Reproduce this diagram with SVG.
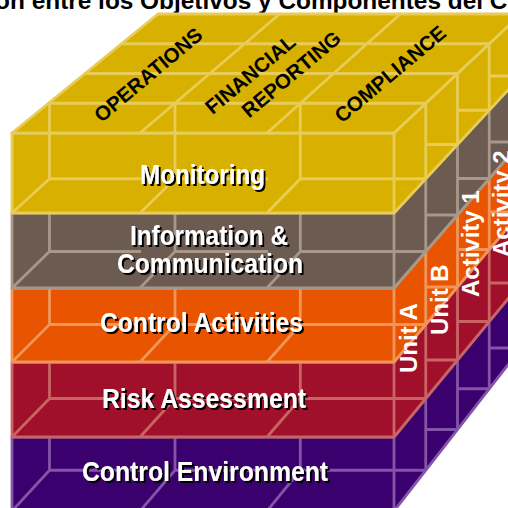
<svg xmlns="http://www.w3.org/2000/svg" width="508" height="508" viewBox="0 0 508 508">
<defs>
<filter id="shadow" x="-5%" y="-20%" width="115%" height="150%">
<feOffset in="SourceAlpha" dx="2.2" dy="2.2" result="off"/>
<feMerge><feMergeNode in="off"/><feMergeNode in="SourceGraphic"/></feMerge>
</filter>
</defs>
<style>
.ln{fill:none;stroke-width:2.8;stroke-linecap:round;stroke-linejoin:round}
.f{font-family:"Liberation Sans",Arial,Helvetica,sans-serif;font-weight:bold}
.lbl{font-size:27px;text-anchor:middle;fill:#fff;filter:url(#shadow)}
.toplbl{font-size:20.5px;text-anchor:middle;fill:#000}
.sidelbl{font-size:24px;fill:#fff}
</style>
<rect width="508" height="508" fill="#fff"/>
<text class="f" x="-4.9" y="9" font-size="24.4" fill="#000">on entre los Objetivos y Componentes del C</text>

<g id="control-environment">
<path fill="#3A006E" d="M12 437H394V511H12Z M394 437L521 283V348L394 511Z"/>
<path class="ln" stroke="#8454A8" d="M49.5 437V470.25H140 M12 511L49.5 470.25 M175 437V470.25H267 M140 511L175 470.25 M300.3 437V470.25H425.75 M267 511L300.3 470.25 M425.75 398.5V470.25 M457.5 360V429.5 M489.25 321.5V388.75 M521 283V348 M425.75 429.5H457.5 M457.5 388.75H489.25 M489.25 348H521 M12 437H394V511H12Z M394 437L521 283V348L394 511"/>
<text class="f lbl" x="205" y="481" textLength="246" lengthAdjust="spacingAndGlyphs">Control Environment</text>
</g>

<g id="risk-assessment">
<path fill="#A0102A" d="M12 362H394V437H12Z M394 362L521 212V283L394 437Z"/>
<path class="ln" stroke="#C86464" d="M49.5 362V398.5H140 M12 437L49.5 398.5 M175 362V398.5H267 M140 437L175 398.5 M300.3 362V398.5H425.75 M267 437L300.3 398.5 M425.75 324.5V398.5 M457.5 287V360 M489.25 249.5V321.5 M521 212V283 M425.75 360H457.5 M457.5 321.5H489.25 M489.25 283H521 M12 362H394V437H12Z M394 362L521 212V283L394 437"/>
<text class="f lbl" x="204" y="408" textLength="204" lengthAdjust="spacingAndGlyphs">Risk Assessment</text>
</g>

<g id="control-activities">
<path fill="#E85400" d="M12 288H394V362H12Z M394 288L521 142V212L394 362Z"/>
<path class="ln" stroke="#F0965A" d="M49.5 288V324.5H140 M12 362L49.5 324.5 M175 288V324.5H267 M140 362L175 324.5 M300.3 288V324.5H425.75 M267 362L300.3 324.5 M425.75 251.5V324.5 M457.5 215V287 M489.25 178.5V249.5 M521 142V212 M425.75 287H457.5 M457.5 249.5H489.25 M489.25 212H521 M12 288H394V362H12Z M394 288L521 142V212L394 362"/>
<text class="f lbl" x="201.5" y="332" textLength="203" lengthAdjust="spacingAndGlyphs">Control Activities</text>
</g>

<g id="information-communication">
<path fill="#6B5B50" d="M12 213H394V288H12Z M394 213L521 76V142L394 288Z"/>
<path class="ln" stroke="#A8988A" d="M49.5 213V251.5H140 M12 288L49.5 251.5 M175 213V251.5H267 M140 288L175 251.5 M300.3 213V251.5H425.75 M267 288L300.3 251.5 M425.75 178.75V251.5 M457.5 144.5V215 M489.25 110.25V178.5 M521 76V142 M425.75 215H457.5 M457.5 178.5H489.25 M489.25 142H521 M12 213H394V288H12Z M394 213L521 76V142L394 288"/>
<text class="f lbl" x="209" y="245" textLength="158" lengthAdjust="spacingAndGlyphs">Information &amp;</text>
<text class="f lbl" x="210" y="272.5" textLength="186" lengthAdjust="spacingAndGlyphs">Communication</text>
</g>

<g id="monitoring">
<path fill="#D8B100" d="M12 133H394V213H12Z M394 133L521 14V76L394 213Z"/>
<path class="ln" stroke="#E8CC55" d="M49.5 133V178.75H140 M12 213L49.5 178.75 M175 133V178.75H267 M140 213L175 178.75 M300.3 133V178.75H425.75 M267 213L300.3 178.75 M425.75 103.25V178.75 M457.5 73.5V144.5 M489.25 43.75V110.25 M521 14V76 M425.75 144.5H457.5 M457.5 110.25H489.25 M489.25 76H521 M12 133H394V213H12Z M394 133L521 14V76L394 213"/>
<text class="f lbl" x="202.5" y="184" textLength="125" lengthAdjust="spacingAndGlyphs">Monitoring</text>
</g>

<g id="objectives-top">
<path fill="#D8B100" d="M12 133H394L521 14H158Z"/>
<path class="ln" stroke="#E8CC55" d="M140 133L279.6 14 M267 133L400.3 14 M48.5 103.25H425.75 M85 73.5H457.5 M121.5 43.75H489.25 M49.5 103.25V133 M175 103.25V133 M300.3 103.25V133 M12 133H394L521 14H158Z"/>
<text class="f toplbl" transform="translate(148 74.5) rotate(-40)" y="7.4">OPERATIONS</text>
<text class="f toplbl" transform="translate(250 74) rotate(-40)" y="7.4">FINANCIAL</text>
<text class="f toplbl" transform="translate(291 74) rotate(-40)" y="7.4">REPORTING</text>
<text class="f toplbl" transform="translate(390 73.75) rotate(-40)" y="7.4">COMPLIANCE</text>
</g>

<g id="units-activities">
<text class="f sidelbl" transform="translate(417 373) rotate(-90)">Unit A</text>
<text class="f sidelbl" transform="translate(448 335) rotate(-90)">Unit B</text>
<text class="f sidelbl" transform="translate(479 297) rotate(-90)">Activity 1</text>
<text class="f sidelbl" transform="translate(510 257) rotate(-90)">Activity 2</text>
</g>
</svg>
